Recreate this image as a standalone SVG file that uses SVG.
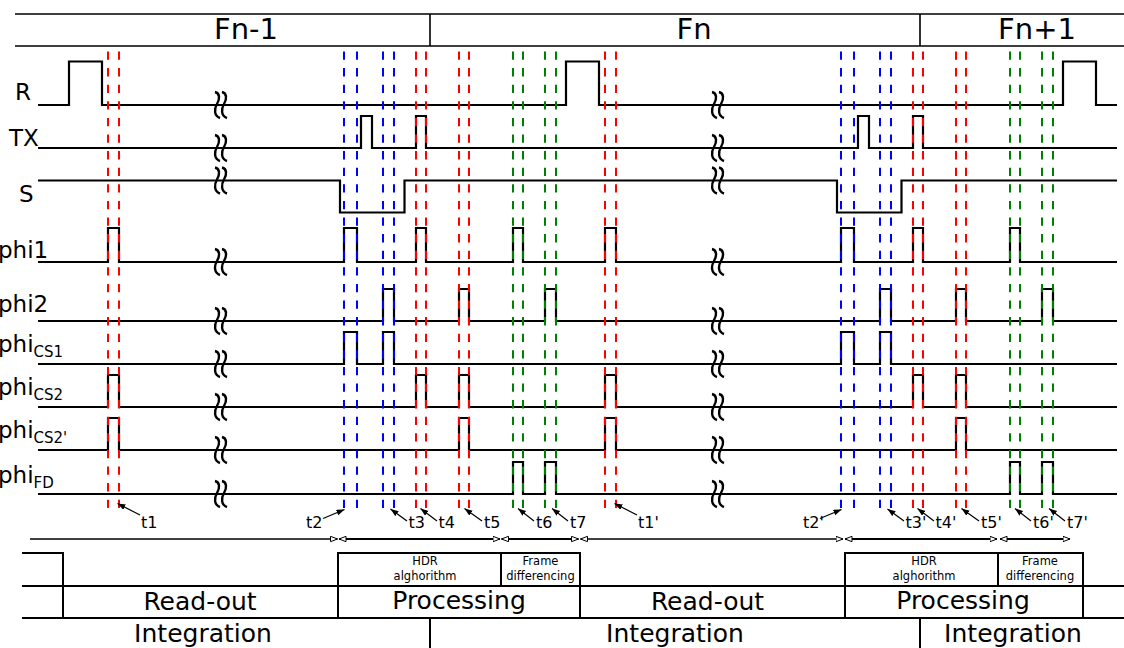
<svg xmlns="http://www.w3.org/2000/svg" xmlns:xlink="http://www.w3.org/1999/xlink" width="1124" height="648" viewBox="0 0 1124 648">
  <style>
    text { font-family: "DejaVu Sans", "Liberation Sans", sans-serif; fill: #000; }
    .hdr { font-size: 29px; text-anchor: middle; }
    .lbl { font-size: 23px; }
    .sub { font-size: 15px; }
    .tl { font-size: 16px; }
    .big { font-size: 25px; text-anchor: middle; }
    .small { font-size: 11.5px; text-anchor: middle; }
    .wave { fill: none; stroke: #000; stroke-width: 2.2; }
    .frame { fill: none; stroke: #000; stroke-width: 1.6; }
    .box { fill: none; stroke: #000; stroke-width: 2; }
    .dash { stroke-width: 2; stroke-dasharray: 8.3 8.3; fill: none; }
    .red { stroke: #ff0000; }
    .blue { stroke: #0000ff; }
    .green { stroke: #008000; }
    .brk { fill: none; stroke: #000; stroke-width: 2.4; }
    .ptr { fill: none; stroke: #000; stroke-width: 1.2; marker-end: url(#tip); }
    .span { fill: none; stroke: #000; }
    .thin { stroke-width: 1.3; }
    .thick { stroke-width: 2; }
  </style>
  <defs>
    <marker id="tip" markerUnits="userSpaceOnUse" markerWidth="9" markerHeight="7" refX="8" refY="3" orient="auto">
      <path d="M0,0 L8,3 L0,6 z" fill="#000"/>
    </marker>
    <marker id="open" markerUnits="userSpaceOnUse" markerWidth="9" markerHeight="8" refX="7.5" refY="3.2" orient="auto-start-reverse">
      <path d="M0.5,0.5 L7.5,3.2 L0.5,5.9 z" fill="#fff" stroke="#000" stroke-width="1"/>
    </marker>
    <!-- double squiggle marking a time break on a signal line -->
    <g id="brk">
      <path class="brk" d="M-5,-13 C0,-12 0,-6 -3,-1 C-6,4 -6,11 0,13"/>
      <path class="brk" d="M2,-13 C7,-12 7,-6 4,-1 C1,4 1,11 7,13"/>
    </g>
  </defs>

  <rect width="1124" height="648" fill="#fff"/>

  <!-- frame header -->
  <g id="header">
    <path class="frame" d="M15,14 H1124 M15,46 H1124 M430,14 V46 M920,14 V46"/>
    <text class="hdr" x="246" y="39">Fn-1</text>
    <text class="hdr" x="694" y="39">Fn</text>
    <text class="hdr" x="1037" y="39">Fn+1</text>
  </g>

  <!-- signal names -->
  <g id="labels">
    <text class="lbl" x="15" y="100">R</text>
    <text class="lbl" x="9" y="146">TX</text>
    <text class="lbl" x="19" y="201.5">S</text>
    <text class="lbl" x="-2" y="258">phi1</text>
    <text class="lbl" x="-2" y="312">phi2</text>
    <text class="lbl" x="-2" y="352">phi<tspan class="sub" dy="5">CS1</tspan></text>
    <text class="lbl" x="-2" y="395">phi<tspan class="sub" dy="5">CS2</tspan></text>
    <text class="lbl" x="-2" y="438">phi<tspan class="sub" dy="5">CS2'</tspan></text>
    <text class="lbl" x="-2" y="483">phi<tspan class="sub" dy="5">FD</tspan></text>
  </g>

  <!-- waveforms -->
  <g id="waveforms">
    <path id="sig-R" class="wave" d="M38,105 H69 V61.5 H102 V105 H566 V61.5 H599 V105 H1063 V61.5 H1096 V105 H1117"/>
    <path id="sig-TX" class="wave" d="M38,148 H361 V116 H372 V148 H416 V116 H426 V148 H858 V116 H869 V148 H913 V116 H923 V148 H1117"/>
    <path id="sig-S" class="wave" d="M38,180.5 H340 V212.5 H404.5 V180.5 H837 V212.5 H901.5 V180.5 H1117"/>
    <path id="sig-phi1" class="wave" d="M38,262 H108 V228 H119 V262 H344 V228 H357 V262 H416 V228 H426 V262 H513 V228 H523 V262 H605 V228 H616 V262 H841 V228 H854 V262 H913 V228 H923 V262 H1010 V228 H1020 V262 H1117"/>
    <path id="sig-phi2" class="wave" d="M38,321 H383 V289 H394 V321 H459 V289 H469 V321 H545 V289 H556 V321 H880 V289 H891 V321 H956 V289 H966 V321 H1042 V289 H1053 V321 H1117"/>
    <path id="sig-phiCS1" class="wave" d="M38,364 H344 V332 H357 V364 H383 V332 H394 V364 H841 V332 H854 V364 H880 V332 H891 V364 H1117"/>
    <path id="sig-phiCS2" class="wave" d="M38,407 H108 V375 H119 V407 H416 V375 H426 V407 H459 V375 H469 V407 H605 V375 H616 V407 H913 V375 H923 V407 H956 V375 H966 V407 H1117"/>
    <path id="sig-phiCS2p" class="wave" d="M38,450 H108 V418 H119 V450 H459 V418 H469 V450 H605 V418 H616 V450 H956 V418 H966 V450 H1117"/>
    <path id="sig-phiFD" class="wave" d="M38,494 H513 V462 H523 V494 H545 V462 H556 V494 H1010 V462 H1020 V494 H1042 V462 H1053 V494 H1117"/>
  </g>

  <!-- time breaks -->
  <g id="breaks">
    <use xlink:href="#brk" x="220" y="105"/>
    <use xlink:href="#brk" x="220" y="148"/>
    <use xlink:href="#brk" x="220" y="180.5"/>
    <use xlink:href="#brk" x="220" y="262"/>
    <use xlink:href="#brk" x="220" y="321"/>
    <use xlink:href="#brk" x="220" y="364"/>
    <use xlink:href="#brk" x="220" y="407"/>
    <use xlink:href="#brk" x="220" y="450"/>
    <use xlink:href="#brk" x="220" y="494"/>
    <use xlink:href="#brk" x="717" y="105"/>
    <use xlink:href="#brk" x="717" y="148"/>
    <use xlink:href="#brk" x="717" y="180.5"/>
    <use xlink:href="#brk" x="717" y="262"/>
    <use xlink:href="#brk" x="717" y="321"/>
    <use xlink:href="#brk" x="717" y="364"/>
    <use xlink:href="#brk" x="717" y="407"/>
    <use xlink:href="#brk" x="717" y="450"/>
    <use xlink:href="#brk" x="717" y="494"/>
  </g>

  <!-- sampling instants (dashed markers), one set per frame -->
  <g id="instants">
    <g id="instants-a">
      <path class="dash red" d="M108,51.5 V508 M119,51.5 V508"/>
      <path class="dash blue" d="M344,51.5 V508 M357,51.5 V508 M383,51.5 V508 M394,51.5 V508"/>
      <path class="dash red" d="M416,51.5 V508 M426,51.5 V508 M459,51.5 V508 M469,51.5 V508"/>
      <path class="dash green" d="M513,51.5 V508 M523,51.5 V508 M545,51.5 V508 M556,51.5 V508"/>
    </g>
    <use xlink:href="#instants-a" x="497" y="0"/>
  </g>

  <!-- instant names with pointers -->
  <g id="connectors">
    <g id="pointers-a">
      <path class="ptr" d="M140,515 L117.5,503.5"/>
      <path class="ptr" d="M323,518.5 L344.5,509.5"/>
      <path class="ptr" d="M407,521 L390.5,509"/>
      <path class="ptr" d="M437,521 L420.5,508.5"/>
      <path class="ptr" d="M482,521 L464.5,508.5"/>
      <path class="ptr" d="M534,521 L518,508.5"/>
      <path class="ptr" d="M568,521 L552,508.5"/>
    </g>
    <use xlink:href="#pointers-a" x="497" y="0"/>

    <!-- phase spans -->
    <path class="span thin" marker-end="url(#open)" d="M30,539 H337.5"/>
    <path class="span thick" marker-start="url(#open)" marker-end="url(#open)" d="M339,539 H500"/>
    <path class="span thick" marker-start="url(#open)" marker-end="url(#open)" d="M501.5,539 H578.5"/>
    <path class="span thin" marker-start="url(#open)" marker-end="url(#open)" d="M580.5,539 H843"/>
    <path class="span thick" marker-start="url(#open)" marker-end="url(#open)" d="M845,539 H997"/>
    <path class="span thick" marker-start="url(#open)" marker-end="url(#open)" d="M1000,539 H1070"/>
  </g>

  <g id="instant-names">
    <text class="tl" x="141" y="528">t1</text>
    <text class="tl" x="306" y="528">t2</text>
    <text class="tl" x="408.5" y="528">t3</text>
    <text class="tl" x="438.5" y="528">t4</text>
    <text class="tl" x="484" y="528">t5</text>
    <text class="tl" x="536" y="528">t6</text>
    <text class="tl" x="570" y="528">t7</text>
    <text class="tl" x="638" y="528">t1'</text>
    <text class="tl" x="803" y="528">t2'</text>
    <text class="tl" x="905.5" y="528">t3'</text>
    <text class="tl" x="935.5" y="528">t4'</text>
    <text class="tl" x="981" y="528">t5'</text>
    <text class="tl" x="1033" y="528">t6'</text>
    <text class="tl" x="1067" y="528">t7'</text>
  </g>

  <!-- activity bands -->
  <g id="band-lines">
    <path class="box" d="M22,553 H63 V618 M22,586 H1124 M22,618 H1124"/>
    <path class="box" d="M338,618 V553 H580 V618 M501,553 V586"/>
    <path class="box" d="M845,618 V553 H1083 V618 M998,553 V586"/>
    <path class="box" d="M430,618 V648 M920,618 V648"/>
  </g>

  <g id="hdr-1">
    <text class="small" x="425" y="565">HDR</text>
    <text class="small" x="425" y="579.5">alghorithm</text>
  </g>
  <g id="fd-1">
    <text class="small" x="540.5" y="565">Frame</text>
    <text class="small" x="540.5" y="579.5">differencing</text>
  </g>
  <g id="hdr-2">
    <text class="small" x="924" y="565">HDR</text>
    <text class="small" x="924" y="579.5">alghorithm</text>
  </g>
  <g id="fd-2">
    <text class="small" x="1040" y="565">Frame</text>
    <text class="small" x="1040" y="579.5">differencing</text>
  </g>

  <g id="readout-1"><text class="big" x="200" y="609.5">Read-out</text></g>
  <g id="processing-1"><text class="big" x="459" y="608.5">Processing</text></g>
  <g id="readout-2"><text class="big" x="707.5" y="609.5">Read-out</text></g>
  <g id="processing-2"><text class="big" x="963" y="608.5">Processing</text></g>

  <g id="integration-1"><text class="big" x="203" y="642">Integration</text></g>
  <g id="integration-3"><text class="big" x="1013" y="642">Integration</text></g>
  <g id="integration-2"><text class="big" x="675" y="642">Integration</text></g>
</svg>
